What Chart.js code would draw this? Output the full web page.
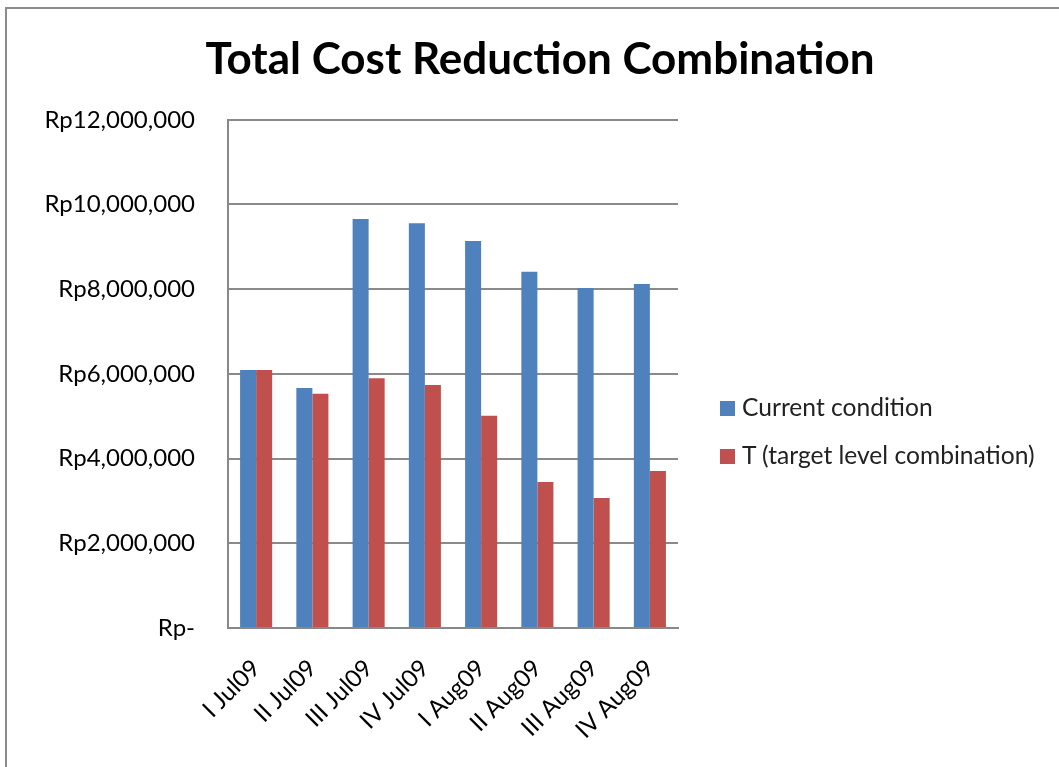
<!DOCTYPE html>
<html>
<head>
<meta charset="utf-8">
<script src="https://cdn.jsdelivr.net/npm/chart.js@4.4.1/dist/chart.umd.min.js"></script>
<style>
  html, body { margin: 0; padding: 0; background: #fff; }
  #frame {
    position: absolute; left: 5px; top: 7px; width: 1100px; height: 800px;
    border-left: 2px solid #8c8c8c; border-top: 2px solid #8c8c8c;
  }
  #wrap { position: absolute; left: 0; top: 0; width: 1059px; height: 767px; }
  #legend {
    position: absolute; left: 720px; top: 392px;
    font-family: Lato, "Noto Sans", sans-serif; font-size: 24.6px; color: #222;
  }
  #legend div { height: 48px; display: flex; align-items: flex-start; }
  #legend span.box { width: 15px; height: 15px; margin: 9px 7px 0 0; display: inline-block; }
</style>
</head>
<body>
<div id="frame"></div>
<div id="wrap"><canvas id="costChart" width="1059" height="767"></canvas></div>
<div id="legend">
  <div><span class="box" style="background:#4F81BD"></span>Current condition</div>
  <div><span class="box" style="background:#C0504D"></span>T (target level combination)</div>
</div>
<script>
// Weekly periods and cost figures (Rupiah)
const periods = ['I Jul09', 'II Jul09', 'III Jul09', 'IV Jul09', 'I Aug09', 'II Aug09', 'III Aug09', 'IV Aug09'];
const currentCondition = [6090000, 5670000, 9660000, 9560000, 9140000, 8410000, 8030000, 8120000];
const targetCombination = [6090000, 5530000, 5900000, 5740000, 5010000, 3450000, 3070000, 3710000];
const yTicks = [0, 2000000, 4000000, 6000000, 8000000, 10000000, 12000000];

const labelFont = { family: 'Lato, "Noto Sans", sans-serif', size: 24 };

function rupiah(v) {
    if (v === 0) return 'Rp-';
    return 'Rp' + v.toLocaleString('en-US');
}

const ctx = document.getElementById('costChart').getContext('2d');
new Chart(ctx, {
    type: 'bar',
    data: {
        labels: periods,
        datasets: [{
            label: 'Current condition',
            data: currentCondition,
            backgroundColor: '#4F81BD'
        }, {
            label: 'T (target level combination)',
            data: targetCombination,
            backgroundColor: '#C0504D'
        }]
    },
    options: {
        responsive: false,
        animation: false,
        categoryPercentage: 0.57,
        barPercentage: 1.0,
        layout: { padding: { left: 21, right: 0, top: 0, bottom: 0 } },
        plugins: {
            legend: { display: false },
            tooltip: { enabled: false },
            title: {
                display: true,
                text: 'Total Cost Reduction Combination',
                color: '#000',
                font: { family: 'Lato, "Noto Sans", sans-serif', size: 44, weight: 'bold', lineHeight: 1.2 },
                padding: { top: 33, bottom: 34 }
            }
        },
        scales: {
            x: {
                grid: { display: false, drawTicks: false },
                border: { color: '#888', width: 2 },
                ticks: {
                    color: '#000', font: labelFont,
                    minRotation: 45, maxRotation: 45, padding: 26
                },
                afterFit: function(scale) { scale.height = 139; }
            },
            y: {
                min: 0, max: 12000000,
                afterBuildTicks: function(scale) {
                    scale.ticks = yTicks.map(v => ({ value: v }));
                },
                grid: { color: '#8a8a8a', lineWidth: 2, drawTicks: false },
                border: { color: '#888', width: 2 },
                ticks: {
                    color: '#000', font: labelFont, padding: 33,
                    callback: function(v) { return rupiah(v); }
                },
                afterFit: function(scale) { scale.width = 207; }
            },
            // empty right-hand space reserved for the legend column
            side: {
                position: 'right',
                display: true,
                min: 0, max: 1,
                grid: { display: false, drawTicks: false },
                border: { display: false },
                ticks: { display: false },
                afterFit: function(scale) { scale.width = 381; }
            }
        }
    }
});
</script>
</body>
</html>
